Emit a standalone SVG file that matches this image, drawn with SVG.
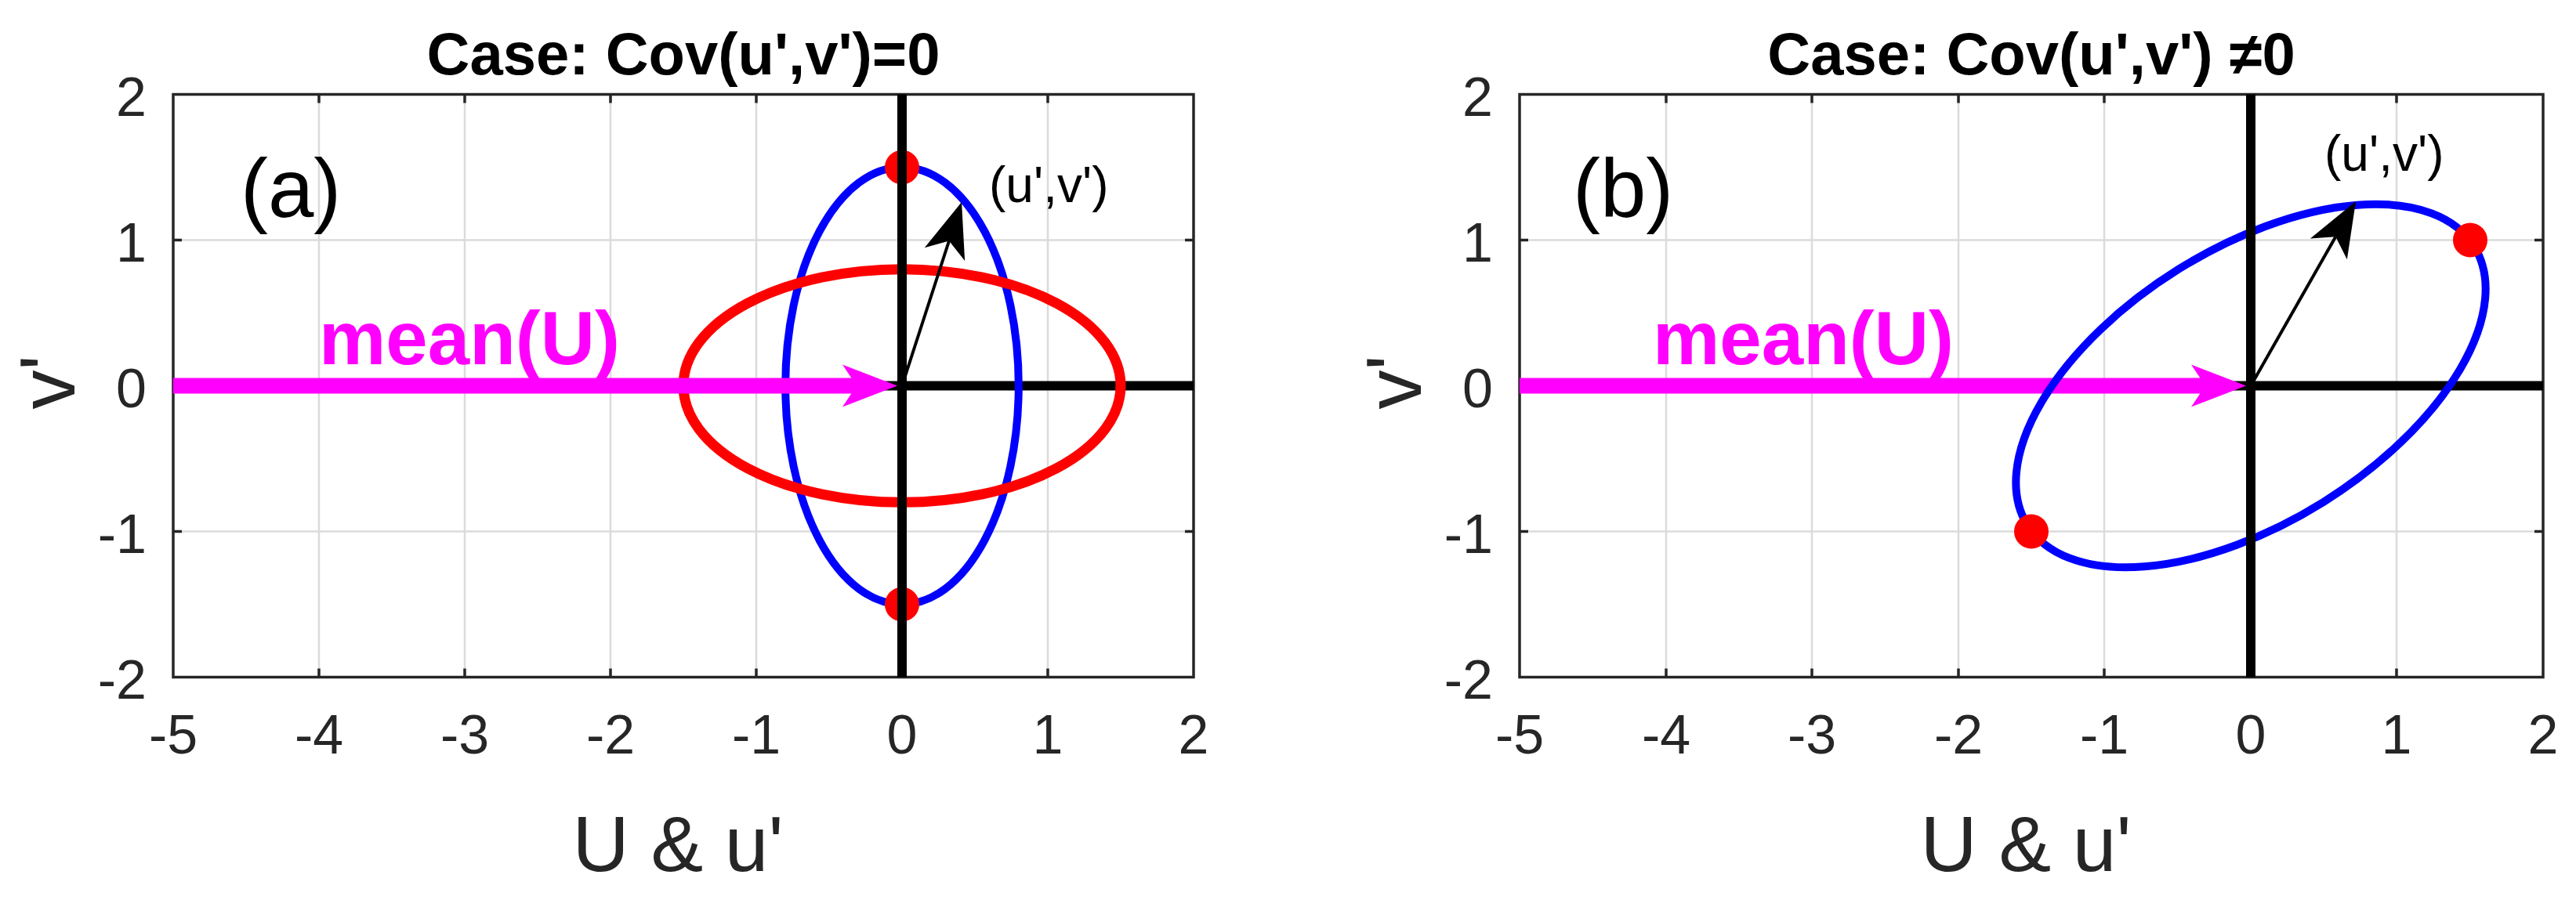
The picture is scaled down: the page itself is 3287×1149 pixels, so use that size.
<svg xmlns="http://www.w3.org/2000/svg" width="3287" height="1149" viewBox="0 0 3287 1149">
<style>
text{font-family:"Liberation Sans",Arial,Helvetica,sans-serif}
.grid{stroke:#dbdbdb;stroke-width:2.5;fill:none}
.box{fill:none;stroke:#262626;stroke-width:3.5}
.tick{stroke:#262626;stroke-width:3.5;fill:none}
.ax0{stroke:#000;stroke-width:12;fill:none}
.blue{fill:none;stroke:#0000ff;stroke-width:10}
.red{fill:none;stroke:#ff0000;stroke-width:13}
.dot{fill:#ff0000}
.tl{font-size:70px;fill:#262626}
.tx{text-anchor:middle}
.ty{text-anchor:end}
.title{font-weight:bold;font-size:76px;fill:#000;text-anchor:middle}
.lab{font-size:100px;fill:#262626;text-anchor:middle}
.mean{font-weight:bold;font-size:96px;fill:#ff00ff}
.pl{font-size:105px;fill:#000}
.uv{font-size:64px;fill:#000}
.marr{stroke:#ff00ff;stroke-width:20;fill:none;marker-end:url(#hm)}
.karr{stroke:#000;stroke-width:4;fill:none;marker-end:url(#hk)}
</style>
<defs>
<marker id="hm" markerUnits="userSpaceOnUse" orient="auto" overflow="visible" refX="0" refY="0" markerWidth="1" markerHeight="1">
<path d="M52 0L-18 -27L0 0L-18 27Z" fill="#ff00ff"/>
</marker>
<marker id="hk" markerUnits="userSpaceOnUse" orient="auto" overflow="visible" refX="0" refY="0" markerWidth="1" markerHeight="1">
<path d="M52 0L-18 -27L0 0L-18 27Z" fill="#000"/>
</marker>
</defs>
<rect width="3287" height="1149" fill="#fff"/>

<g id="panel-a">
<g id="a-grid">
<path class="grid" d="M407 120.5V864.5M593 120.5V864.5M779 120.5V864.5M965 120.5V864.5M1337 120.5V864.5M221 306.5H1523M221 678.5H1523"/>
</g>
<g id="a-axes">
<rect class="box" x="221" y="120.5" width="1302" height="744"/>
<path class="tick" d="M407 120.5v11M593 120.5v11M779 120.5v11M965 120.5v11M1151 120.5v11M1337 120.5v11M407 864.5v-11M593 864.5v-11M779 864.5v-11M965 864.5v-11M1151 864.5v-11M1337 864.5v-11M221 306.5h11M221 492.5h11M221 678.5h11M1523 306.5h-11M1523 492.5h-11M1523 678.5h-11"/>
<line class="ax0" x1="221" y1="492.5" x2="1523" y2="492.5"/>
</g>
<g id="a-blue-ellipse"><ellipse class="blue" cx="1151" cy="492.5" rx="148.8" ry="279"/></g>
<g id="a-red-ellipse"><ellipse class="red" cx="1151" cy="492.5" rx="279" ry="148.8"/></g>
<g id="a-dots">
<circle class="dot" cx="1151" cy="213.5" r="22"/>
<circle class="dot" cx="1151" cy="771.5" r="22"/>
</g>
<line class="ax0" x1="1151" y1="120.5" x2="1151" y2="864.5"/>
<g id="a-xticklabels" class="tl tx">
<text x="221" y="962">-5</text><text x="407" y="962">-4</text><text x="593" y="962">-3</text><text x="779" y="962">-2</text><text x="965" y="962">-1</text><text x="1151" y="962">0</text><text x="1337" y="962">1</text><text x="1523" y="962">2</text>
</g>
<g id="a-yticklabels" class="tl ty">
<text x="187" y="147.5">2</text><text x="187" y="333.5">1</text><text x="187" y="519.5">0</text><text x="187" y="705.5">-1</text><text x="187" y="891.5">-2</text>
</g>
<text id="a-title" class="title" x="872" y="95">Case: Cov(u',v')=0</text>
<text id="a-xlabel" class="lab" x="865" y="1112">U &amp; u'</text>
<text id="a-ylabel" class="lab" transform="translate(95,488) rotate(-90)">v'</text>
<text id="a-tag" class="pl" x="307" y="277">(a)</text>
<text id="a-mean" class="mean" x="407" y="465">mean(U)</text>
<text id="a-uv" class="uv" x="1262" y="258">(u',v')</text>
</g>

<g id="panel-b">
<g id="b-grid">
<path class="grid" d="M2126 120.5V864.5M2312 120.5V864.5M2499 120.5V864.5M2685 120.5V864.5M3058 120.5V864.5M1939 306.5H3245M1939 678.5H3245"/>
</g>
<g id="b-axes">
<rect class="box" x="1939" y="120.5" width="1306" height="744"/>
<path class="tick" d="M2126 120.5v11M2312 120.5v11M2499 120.5v11M2685 120.5v11M2872 120.5v11M3058 120.5v11M2126 864.5v-11M2312 864.5v-11M2499 864.5v-11M2685 864.5v-11M2872 864.5v-11M3058 864.5v-11M1939 306.5h11M1939 492.5h11M1939 678.5h11M3245 306.5h-11M3245 492.5h-11M3245 678.5h-11"/>
<line class="ax0" x1="1939" y1="492.5" x2="3245" y2="492.5"/>
</g>
<g id="b-xticklabels" class="tl tx">
<text x="1939" y="962">-5</text><text x="2126" y="962">-4</text><text x="2312" y="962">-3</text><text x="2499" y="962">-2</text><text x="2685" y="962">-1</text><text x="2872" y="962">0</text><text x="3058" y="962">1</text><text x="3245" y="962">2</text>
</g>
<g id="b-yticklabels" class="tl ty">
<text x="1905" y="147.5">2</text><text x="1905" y="333.5">1</text><text x="1905" y="519.5">0</text><text x="1905" y="705.5">-1</text><text x="1905" y="891.5">-2</text>
</g>
<text id="b-title" class="title" x="2592" y="95">Case: Cov(u',v') ≠0</text>
<text id="b-xlabel" class="lab" x="2585" y="1112">U &amp; u'</text>
<text id="b-ylabel" class="lab" transform="translate(1813,488) rotate(-90)">v'</text>
<text id="b-tag" class="pl" x="2007" y="277">(b)</text>
<text id="b-mean" class="mean" x="2109" y="465">mean(U)</text>
<text id="b-uv" class="uv" x="2966" y="218">(u',v')</text>
</g>

<g id="connectors">
<line id="a-mean-arrow" class="marr" x1="221" y1="492.5" x2="1093" y2="492.5"/>
<line id="a-uv-arrow" class="karr" x1="1151" y1="492.5" x2="1211" y2="307.5"/>
<line id="b-mean-arrow" class="marr" x1="1939" y1="492.5" x2="2814" y2="492.5"/>
</g>

<g id="panel-b-curves">
<ellipse id="b-ellipse" class="blue" cx="2872" cy="492.5" rx="336" ry="175" transform="rotate(-32 2872 492.5)"/>
<circle class="dot" cx="3152" cy="306.5" r="22"/>
<circle class="dot" cx="2592" cy="678.5" r="22"/>
<line class="ax0" x1="2872" y1="120.5" x2="2872" y2="864.5"/>
</g>
<g id="connectors-b">
<line id="b-uv-arrow" class="karr" x1="2872" y1="492.5" x2="2980.3" y2="302.2"/>
</g>
</svg>
